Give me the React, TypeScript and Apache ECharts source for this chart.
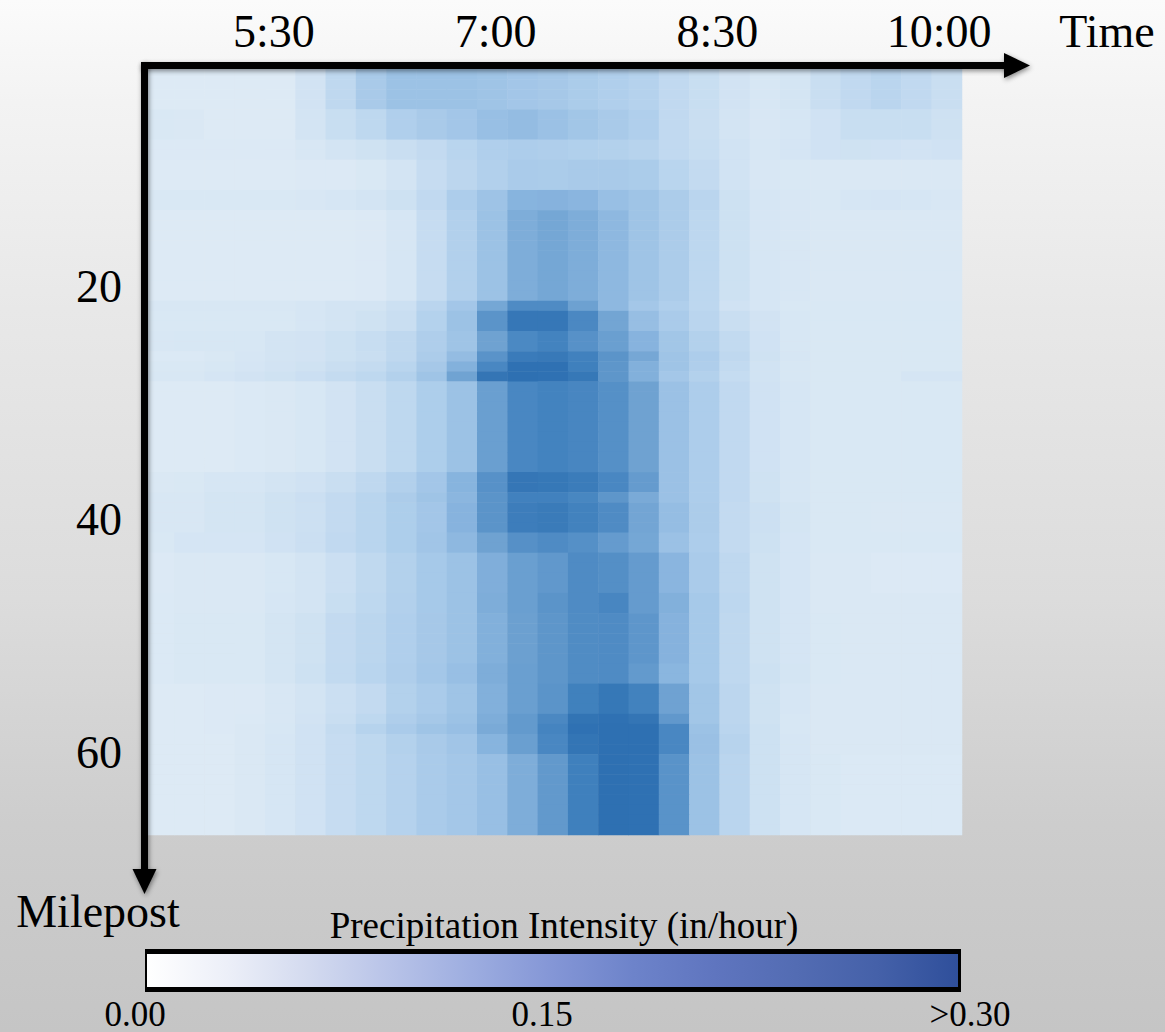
import React, { useEffect, useRef } from 'react';
import * as echarts from 'echarts';

// ---- axis ticks ----
const timeLabelMinutes = [330, 420, 510, 600]; // 5:30, 7:00, 8:30, 10:00
const milepostTicks = [20, 40, 60];
const colorbarTicks = ['0.00', '0.15', '>0.30'];
const colorbarTitle = 'Precipitation Intensity (in/hour)';
const timeSlotCount = 27;

// ---- precipitation intensity (in/hour) per time slot, for bands of milepost rows ----
const bandA = [0, 0, 0, 0, 0, .019, .051, .089, .110, .111, .110, .105, .099, .094, .086, .077, .069, .048, .036, .019, .010, .015, .034, .048, .060, .048, .034];
const bandB = [.007, .005, 0, 0, 0, .017, .036, .053, .077, .089, .099, .118, .125, .113, .101, .089, .077, .048, .034, .017, .009, .012, .022, .036, .036, .036, .026];
const bandC = [.002, .002, .002, .002, .002, .009, .017, .024, .034, .045, .062, .077, .082, .079, .075, .072, .065, .048, .038, .021, .010, .014, .022, .024, .022, .019, .022];
const bandD = [0, 0, 0, 0, 0, .002, .002, .007, .017, .039, .057, .074, .087, .086, .089, .089, .086, .062, .045, .021, .009, .007, .005, .005, .005, .005, .005];
const bandE = [.007, .007, .007, .007, .007, .009, .012, .017, .027, .048, .082, .108, .146, .149, .142, .117, .106, .084, .060, .027, .012, .009, .007, .012, .014, .012, .009];
const bandF = [0, 0, 0, 0, 0, 0, 0, .002, .012, .039, .074, .110, .163, .178, .163, .134, .106, .084, .055, .027, .012, .009, .005, .005, .005, .005, .005];
const bandG = [.009, .009, .009, .009, .009, .012, .017, .017, .029, .060, .099, .178, .243, .243, .192, .134, .098, .077, .055, .022, .012, .007, .007, .007, .007, .007, .007];
const bandH = [.007, .007, .007, .007, .007, .012, .017, .024, .034, .070, .111, .223, .286, .286, .250, .183, .120, .087, .060, .034, .019, .010, .007, .007, .007, .007, .007];
const bandI = [.009, .010, .010, .010, .017, .019, .027, .038, .051, .079, .105, .190, .249, .262, .230, .197, .147, .101, .072, .046, .022, .010, .007, .007, .007, .007, .007];
const row28 = [.003, .003, .007, .012, .017, .019, .027, .034, .051, .084, .125, .225, .278, .283, .266, .223, .177, .106, .082, .051, .024, .012, .007, .007, .007, .007, .007];
const row29 = [.007, .007, .010, .014, .019, .024, .034, .043, .062, .094, .153, .252, .298, .298, .269, .219, .156, .105, .079, .046, .021, .010, .007, .007, .007, .007, .007];
const row30 = [.009, .009, .014, .019, .024, .031, .043, .053, .072, .106, .187, .290, .300, .298, .285, .219, .156, .098, .072, .041, .021, .010, .007, .007, .007, .014, .014];
const bandJ = [0, 0, 0, .003, .005, .010, .019, .034, .053, .081, .110, .197, .252, .262, .255, .233, .190, .113, .082, .048, .022, .012, .007, .007, .007, .007, .007];
const bandK = [.005, .007, .012, .012, .017, .022, .034, .051, .074, .099, .146, .230, .288, .285, .276, .252, .206, .113, .082, .048, .024, .012, .007, .007, .007, .007, .007];
const row42 = [.009, .009, .015, .015, .024, .031, .045, .062, .084, .105, .139, .223, .266, .266, .254, .219, .170, .113, .082, .048, .024, .012, .007, .007, .007, .007, .007];
const bandL = [.009, .009, .015, .015, .024, .029, .045, .062, .081, .099, .147, .223, .274, .279, .264, .243, .182, .123, .084, .045, .029, .015, .007, .007, .005, .005, .005];
const bandM = [.007, .014, .014, .014, .022, .031, .048, .062, .081, .103, .134, .190, .231, .243, .233, .206, .178, .113, .082, .045, .027, .014, .007, .007, .007, .007, .007];
const bandN = [.002, .005, .005, .005, .010, .017, .031, .050, .072, .093, .110, .159, .197, .213, .243, .235, .206, .142, .087, .051, .024, .014, .005, .005, .002, .002, .002];
const bandO = [.003, .005, .005, .005, .012, .017, .036, .053, .074, .093, .111, .163, .197, .223, .243, .255, .206, .156, .093, .055, .024, .014, .005, .005, .005, .005, .005];
const bandP = [.003, .007, .007, .007, .015, .024, .045, .058, .077, .094, .111, .156, .194, .219, .242, .243, .218, .149, .093, .051, .024, .014, .007, .005, .005, .005, .005];
const bandQ = [.003, .007, .007, .007, .015, .027, .046, .062, .079, .098, .118, .163, .197, .219, .242, .243, .209, .141, .093, .051, .027, .015, .007, .005, .005, .005, .005];
const bandR = [0, 0, .002, .002, .009, .017, .031, .045, .072, .087, .106, .156, .197, .223, .267, .285, .264, .189, .101, .057, .024, .012, .005, .005, .005, .005, .005];
const row64 = [0, 0, .002, .003, .009, .019, .034, .053, .079, .094, .110, .163, .209, .250, .293, .298, .290, .213, .101, .057, .024, .010, .005, .005, .005, .005, .005];
const row65 = [0, 0, .002, .005, .010, .022, .043, .067, .087, .105, .118, .170, .209, .260, .298, .300, .300, .252, .110, .060, .027, .010, .005, .005, .005, .005, .005];
const bandS = [0, 0, 0, .005, .012, .022, .039, .053, .072, .089, .103, .146, .197, .252, .291, .300, .300, .252, .115, .065, .027, .012, .005, .005, .005, .005, .005];
const bandT = [0, 0, 0, .005, .012, .022, .039, .053, .069, .087, .098, .118, .163, .211, .269, .300, .298, .226, .110, .060, .027, .012, .007, .003, .003, .003, .003];

// how many milepost rows each band covers (top to bottom)
const bandRowCounts = [4, 3, 2, 3, 2, 9, 1, 2, 2, 1, 1, 1, 9, 2, 1, 3, 2, 4, 2, 5, 2, 3, 1, 1, 2, 8];
const bandProfiles = [bandA, bandB, bandC, bandD, bandE, bandF, bandG, bandH, bandI, row28, row29, row30,
  bandJ, bandK, row42, bandL, bandM, bandN, bandO, bandP, bandQ, bandR, row64, row65, bandS, bandT];

const heatColors = ['#ddeaf5', '#c7ddf1', '#b1d0ec', '#9bc1e5', '#85b2dd', '#70a3d2', '#5a93c9', '#4383bf', '#2e70b2'];

const SERIF = '"Liberation Serif", "Times New Roman", serif';

function buildCells() {
  const cells: number[][] = [];
  let row = 0;
  bandProfiles.forEach((vals, i) => {
    for (let k = 0; k < bandRowCounts[i]; k++) {
      vals.forEach((v, c) => cells.push([c, row, v]));
      row++;
    }
  });
  return { cells, rowCount: row };
}

export default function App() {
  const ref = useRef<HTMLDivElement>(null);
  useEffect(() => {
    if (!ref.current) return;
    const chart = echarts.init(ref.current, undefined, { renderer: 'svg' });
    const { cells, rowCount } = buildCells();
    const slots = Array.from({ length: timeSlotCount }, (_, i) => String(i));
    const rows = Array.from({ length: rowCount }, (_, i) => String(i));
    const fmtTime = (v: number) => `${Math.floor(v / 60)}:${String(Math.round(v % 60)).padStart(2, '0')}`;
    const shadow = () => ({ shadowBlur: 5, shadowColor: 'rgba(0,0,0,0.45)', shadowOffsetX: 1, shadowOffsetY: 2 });
    const cbX = 145, cbY = 949, cbW = 816, cbH = 43;
    const cbLabelX = [135, 542, 970];
    chart.setOption({
      animation: false,
      backgroundColor: 'transparent',
      grid: { left: 144, top: 69.3, width: 818, height: 765.7, containLabel: false },
      xAxis: [
        { type: 'category', data: slots, show: false },
        {
          type: 'value', position: 'top', min: 277.3, max: 609.3,
          axisLine: { show: false }, axisTick: { show: false }, splitLine: { show: false },
          axisLabel: {
            customValues: timeLabelMinutes, formatter: fmtTime,
            fontSize: 46, fontFamily: SERIF, color: '#000', margin: 15, lineHeight: 46,
          },
        },
      ],
      yAxis: [
        { type: 'category', data: rows, inverse: true, show: false },
        {
          type: 'value', position: 'left', inverse: true, min: 1.3, max: 67.1,
          axisLine: { show: false }, axisTick: { show: false }, splitLine: { show: false },
          axisLabel: {
            customValues: milepostTicks,
            fontSize: 46, fontFamily: SERIF, color: '#000', margin: 22, lineHeight: 46,
          },
        },
      ],
      visualMap: {
        show: false, type: 'continuous', min: 0, max: 0.3, dimension: 2, seriesIndex: 0,
        inRange: { color: heatColors },
      },
      series: [{ type: 'heatmap', data: cells, xAxisIndex: 0, yAxisIndex: 0, itemStyle: { borderWidth: 0 } }],
      graphic: [
        { type: 'rect', z: 100, shape: { x: 141, y: 62, width: 867, height: 7 }, style: { fill: '#000', ...shadow() } },
        { type: 'polygon', z: 100, shape: { points: [[1004, 53], [1030, 65.5], [1004, 78]] }, style: { fill: '#000', ...shadow() } },
        { type: 'rect', z: 100, shape: { x: 141, y: 62, width: 7, height: 810 }, style: { fill: '#000', ...shadow() } },
        { type: 'polygon', z: 100, shape: { points: [[132.5, 869], [144.5, 894], [156.5, 869]] }, style: { fill: '#000', ...shadow() } },
        { type: 'text', z: 100, style: { text: 'Time', x: 1107, y: 31, font: `46px ${SERIF}`, fill: '#000', align: 'center', verticalAlign: 'middle' } },
        { type: 'text', z: 100, style: { text: 'Milepost', x: 98, y: 911, font: `46px ${SERIF}`, fill: '#000', align: 'center', verticalAlign: 'middle' } },
        { type: 'text', z: 100, style: { text: colorbarTitle, x: 564, y: 925, font: `37px ${SERIF}`, fill: '#000', align: 'center', verticalAlign: 'middle' } },
        { type: 'rect', z: 100, shape: { x: cbX, y: cbY, width: cbW, height: cbH }, style: { fill: '#000' } },
        {
          type: 'rect', z: 101, shape: { x: cbX + 2, y: cbY + 5, width: cbW - 5, height: cbH - 10 },
          style: {
            fill: new echarts.graphic.LinearGradient(0, 0, 1, 0, [
              { offset: 0, color: '#ffffff' },
              { offset: 0.1, color: '#eceff8' },
              { offset: 0.2, color: '#d3daef' },
              { offset: 0.3, color: '#b8c3e8' },
              { offset: 0.4, color: '#9dade0' },
              { offset: 0.5, color: '#8496d6' },
              { offset: 0.6, color: '#6d83ca' },
              { offset: 0.7, color: '#5f75bf' },
              { offset: 0.8, color: '#536cb3' },
              { offset: 0.9, color: '#4561a9' },
              { offset: 1, color: '#2f4f9b' },
            ]),
          },
        },
        ...colorbarTicks.map((t, i) => ({
          type: 'text', z: 100,
          style: { text: t, x: cbLabelX[i], y: 1014, font: `35px ${SERIF}`, fill: '#000', align: 'center', verticalAlign: 'middle' },
        })),
      ],
    });
    return () => chart.dispose();
  }, []);
  return (
    <div
      ref={ref}
      style={{
        position: 'absolute', left: 0, top: 0, width: 1165, height: 1032,
        background: 'linear-gradient(180deg, #fbfbfb 0%, #f3f3f3 10%, #e8e8e8 30%, #dcdcdc 58%, #cdcdcd 80%, #c5c5c5 100%)',
      }}
    />
  );
}
